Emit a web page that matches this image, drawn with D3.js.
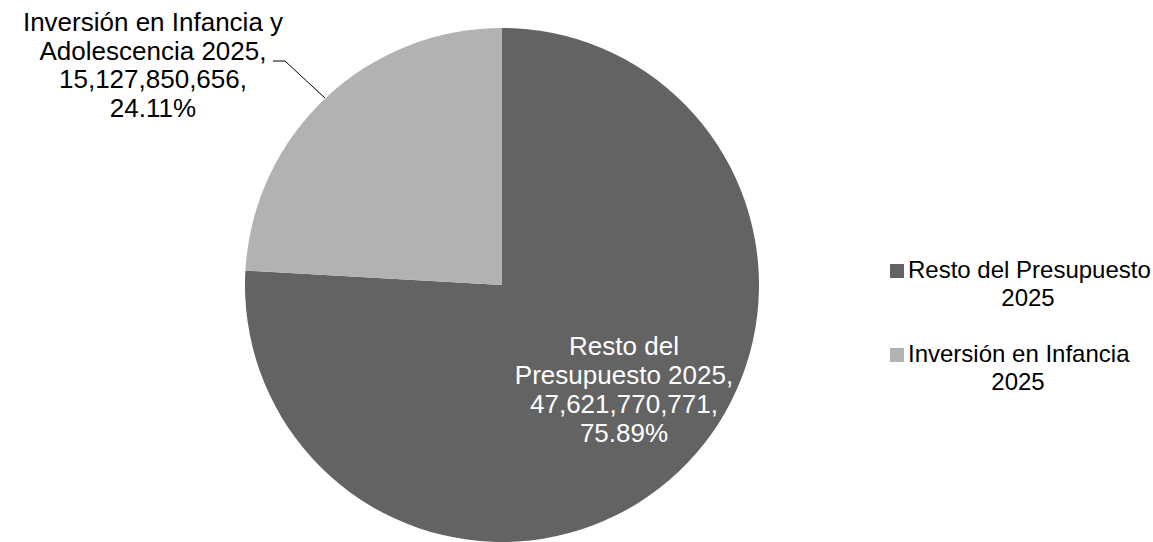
<!DOCTYPE html>
<html>
<head>
<meta charset="utf-8">
<script src="https://cdn.jsdelivr.net/npm/d3@7"></script>
<style>
  body { margin: 0; background: #fff; }
  text { font-family: "Liberation Sans", Arial, sans-serif; }
</style>
</head>
<body>
<script>
const wid = 1153, hei = 542;
const categories = ['Resto del Presupuesto 2025', 'Inversión en Infancia y Adolescencia 2025'];
const values = [47621770771, 15127850656];
const legendNames = [['Resto del Presupuesto', '2025'], ['Inversión en Infancia', '2025']];
const colors = ['#636363', '#b2b2b2'];

const cx = 502, cy = 285, rad = 257;
const fontSize = 26, lineH = 29;

const total = d3.sum(values);
const fmt = d3.format(',');
const pct = (v) => (v / total * 100).toFixed(2) + '%';

let svg = d3.select('body').append('svg')
    .attr('width', wid)
    .attr('height', hei);

let pie = d3.pie().sort(null).value((d) => d)(values);
let arc = d3.arc().innerRadius(0).outerRadius(rad);

let g = svg.append('g').attr('transform', `translate(${cx},${cy})`);

g.selectAll('path')
    .data(pie)
    .enter()
    .append('path')
    .attr('d', arc)
    .attr('fill', (d, i) => colors[i]);

// label inside the big slice
let inner = ['Resto del', 'Presupuesto 2025,', fmt(values[0]) + ',', pct(values[0])];
svg.append('text')
    .attr('text-anchor', 'middle')
    .attr('font-size', fontSize)
    .attr('fill', '#ffffff')
    .selectAll('tspan')
    .data(inner)
    .enter()
    .append('tspan')
    .attr('x', 624)
    .attr('y', (d, i) => 355 + i * lineH)
    .text((d) => d);

// outside label for small slice
let outer = ['Inversión en Infancia y', 'Adolescencia 2025,', fmt(values[1]) + ',', pct(values[1])];
svg.append('text')
    .attr('text-anchor', 'middle')
    .attr('font-size', fontSize)
    .attr('fill', '#000000')
    .selectAll('tspan')
    .data(outer)
    .enter()
    .append('tspan')
    .attr('x', 153)
    .attr('y', (d, i) => 31 + i * 28.5)
    .text((d) => d);

// leader line
svg.append('polyline')
    .attr('points', [[273, 61], [285, 61], [325, 98]].map((p) => p.join(',')).join(' '))
    .attr('fill', 'none')
    .attr('stroke', '#000')
    .attr('stroke-width', 1);

// legend
let leg = svg.selectAll('.leg')
    .data(legendNames)
    .enter()
    .append('g')
    .attr('class', 'leg')
    .attr('transform', (d, i) => `translate(890,${264 + i * 84})`);

leg.append('rect')
    .attr('width', 14)
    .attr('height', 14)
    .attr('fill', (d, i) => colors[i]);

leg.append('text')
    .attr('font-size', 24)
    .attr('fill', '#000')
    .each(function (d, i) {
        let t = d3.select(this);
        t.append('tspan').attr('x', 18).attr('y', 14).text(d[0]);
        t.append('tspan').attr('x', i == 0 ? 138 : 128).attr('y', 14 + 28)
            .attr('text-anchor', 'middle').text(d[1]);
    });
</script>
</body>
</html>
